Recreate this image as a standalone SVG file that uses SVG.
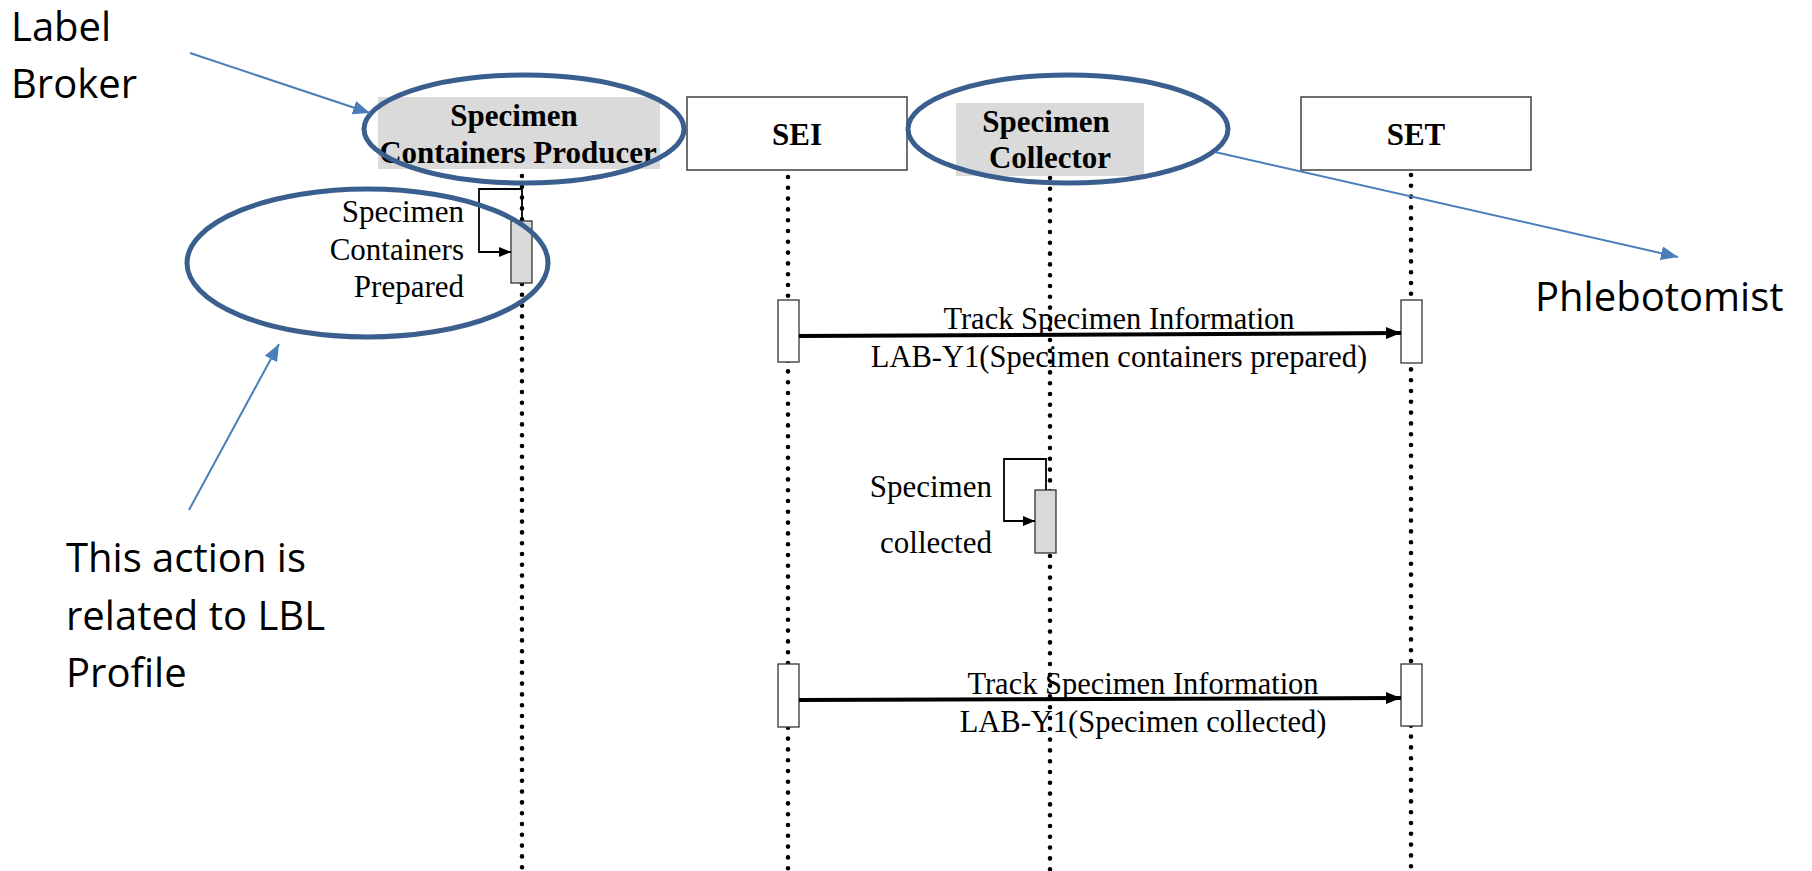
<svg xmlns="http://www.w3.org/2000/svg" width="1812" height="871" viewBox="0 0 1812 871">
  <defs>
    <marker id="msgHead" markerUnits="userSpaceOnUse" markerWidth="15" markerHeight="12" refX="15" refY="6" orient="auto">
      <path d="M0,0 L15,6 L0,12 z" fill="#000"/>
    </marker>
    <marker id="loopHead" markerUnits="userSpaceOnUse" markerWidth="12" markerHeight="10" refX="12" refY="5" orient="auto">
      <path d="M0,0 L12,5 L0,10 z" fill="#000"/>
    </marker>
    <marker id="noteHead" markerUnits="userSpaceOnUse" markerWidth="17" markerHeight="14" refX="17" refY="7" orient="auto">
      <path d="M0,0 L17,7 L0,14 z" fill="#4a7ebb"/>
    </marker>
  </defs>
  <style>
    .serif { font-family: "Liberation Serif", "Times New Roman", serif; fill: #000; }
    .hdr { font-weight: bold; font-size: 31px; text-anchor: middle; }
    .msg { font-size: 30.5px; text-anchor: middle; }
    .side { font-size: 31px; text-anchor: end; }
    .note { font-family: "Open Sans", "Liberation Sans", sans-serif; font-size: 40px; fill: #000; }
    .box { fill: #fff; stroke: #404040; stroke-width: 1.5; }
    .shade { fill: #dadada; }
    .act { fill: #fff; stroke: #333; stroke-width: 1.3; }
    .actg { fill: #d9d9d9; stroke: #333; stroke-width: 1.3; }
    .life { stroke: #000; stroke-width: 4.6; stroke-linecap: round; stroke-dasharray: 0 10.8; fill: none; }
    .msgline { stroke: #000; stroke-width: 4; fill: none; }
    .loop { stroke: #000; stroke-width: 1.8; fill: none; }
    .ring { fill: none; stroke: #3a5f8e; stroke-width: 5; }
    .callout { stroke: #4a7ebb; stroke-width: 2; fill: none; }
  </style>

  <rect width="1812" height="871" fill="#fff"/>

  <!-- message labels (lifeline dots sit on top of them) -->
  <g id="message-labels" class="serif msg">
    <text x="1119" y="329">Track Specimen Information</text>
    <text x="1119" y="367">LAB-Y1(Specimen containers prepared)</text>
    <text x="1143" y="694">Track Specimen Information</text>
    <text x="1143" y="732">LAB-Y1(Specimen collected)</text>
  </g>

  <!-- participant: Specimen Containers Producer -->
  <g id="producer">
    <rect class="shade" x="378" y="97" width="282" height="72"/>
    <text class="serif hdr" x="514" y="126">Specimen</text>
    <text class="serif hdr" x="518" y="163">Containers Producer</text>
    <line class="life" x1="522" y1="176" x2="522" y2="871"/>
    <rect class="actg" x="511" y="221" width="21" height="62"/>
  </g>

  <!-- participant: SEI -->
  <g id="sei">
    <rect class="box" x="687" y="97" width="220" height="73"/>
    <text class="serif hdr" x="797" y="145">SEI</text>
    <line class="life" x1="788" y1="177" x2="788" y2="871"/>
    <rect class="act" x="778" y="300" width="21" height="62"/>
    <rect class="act" x="778" y="664" width="21" height="63"/>
  </g>

  <!-- participant: Specimen Collector -->
  <g id="collector">
    <rect class="shade" x="956" y="103" width="188" height="73"/>
    <text class="serif hdr" x="1046" y="132">Specimen</text>
    <text class="serif hdr" x="1050" y="168">Collector</text>
    <line class="life" x1="1050" y1="178" x2="1050" y2="871"/>
    <rect class="actg" x="1035" y="490" width="21" height="63"/>
  </g>

  <!-- participant: SET -->
  <g id="set">
    <rect class="box" x="1301" y="97" width="230" height="73"/>
    <text class="serif hdr" x="1416" y="145">SET</text>
    <line class="life" x1="1411" y1="175" x2="1411" y2="871"/>
    <rect class="act" x="1401" y="300" width="21" height="63"/>
    <rect class="act" x="1401" y="664" width="21" height="62"/>
  </g>

  <!-- self-call labels -->
  <g id="self-labels" class="serif side">
    <text x="464" y="222">Specimen</text>
    <text x="464" y="260">Containers</text>
    <text x="464" y="297">Prepared</text>
    <text x="992" y="497">Specimen</text>
    <text x="992" y="553">collected</text>
  </g>

  <!-- connectors: messages and self-calls -->
  <g id="connectors">
    <path class="msgline" d="M799,336 L1401,333" marker-end="url(#msgHead)"/>
    <path class="msgline" d="M799,700 L1401,698" marker-end="url(#msgHead)"/>
    <path class="loop" d="M522,221 V189 H479 V252 H511" marker-end="url(#loopHead)"/>
    <path class="loop" d="M1046,490 V459 H1004 V521 H1035" marker-end="url(#loopHead)"/>
  </g>

  <!-- highlight rings -->
  <g id="rings">
    <ellipse class="ring" cx="524" cy="129" rx="160" ry="54"/>
    <ellipse class="ring" cx="1068" cy="129" rx="160" ry="54"/>
    <ellipse class="ring" cx="367.5" cy="263" rx="180.5" ry="74"/>
  </g>

  <!-- callout notes -->
  <g id="note-label-broker">
    <text class="note" x="11" y="41">Label</text>
    <text class="note" x="11" y="98">Broker</text>
  </g>
  <g id="note-phlebotomist">
    <text class="note" x="1535" y="311">Phlebotomist</text>
  </g>
  <g id="note-lbl">
    <text class="note" x="66" y="572">This action is</text>
    <text class="note" x="66" y="630">related to LBL</text>
    <text class="note" x="66" y="687">Profile</text>
  </g>
  <g id="callout-arrows">
    <path class="callout" d="M190,53 L370,113" marker-end="url(#noteHead)"/>
    <path class="callout" d="M1215,152 L1678,257" marker-end="url(#noteHead)"/>
    <path class="callout" d="M189,510 L279,344" marker-end="url(#noteHead)"/>
  </g>
</svg>
